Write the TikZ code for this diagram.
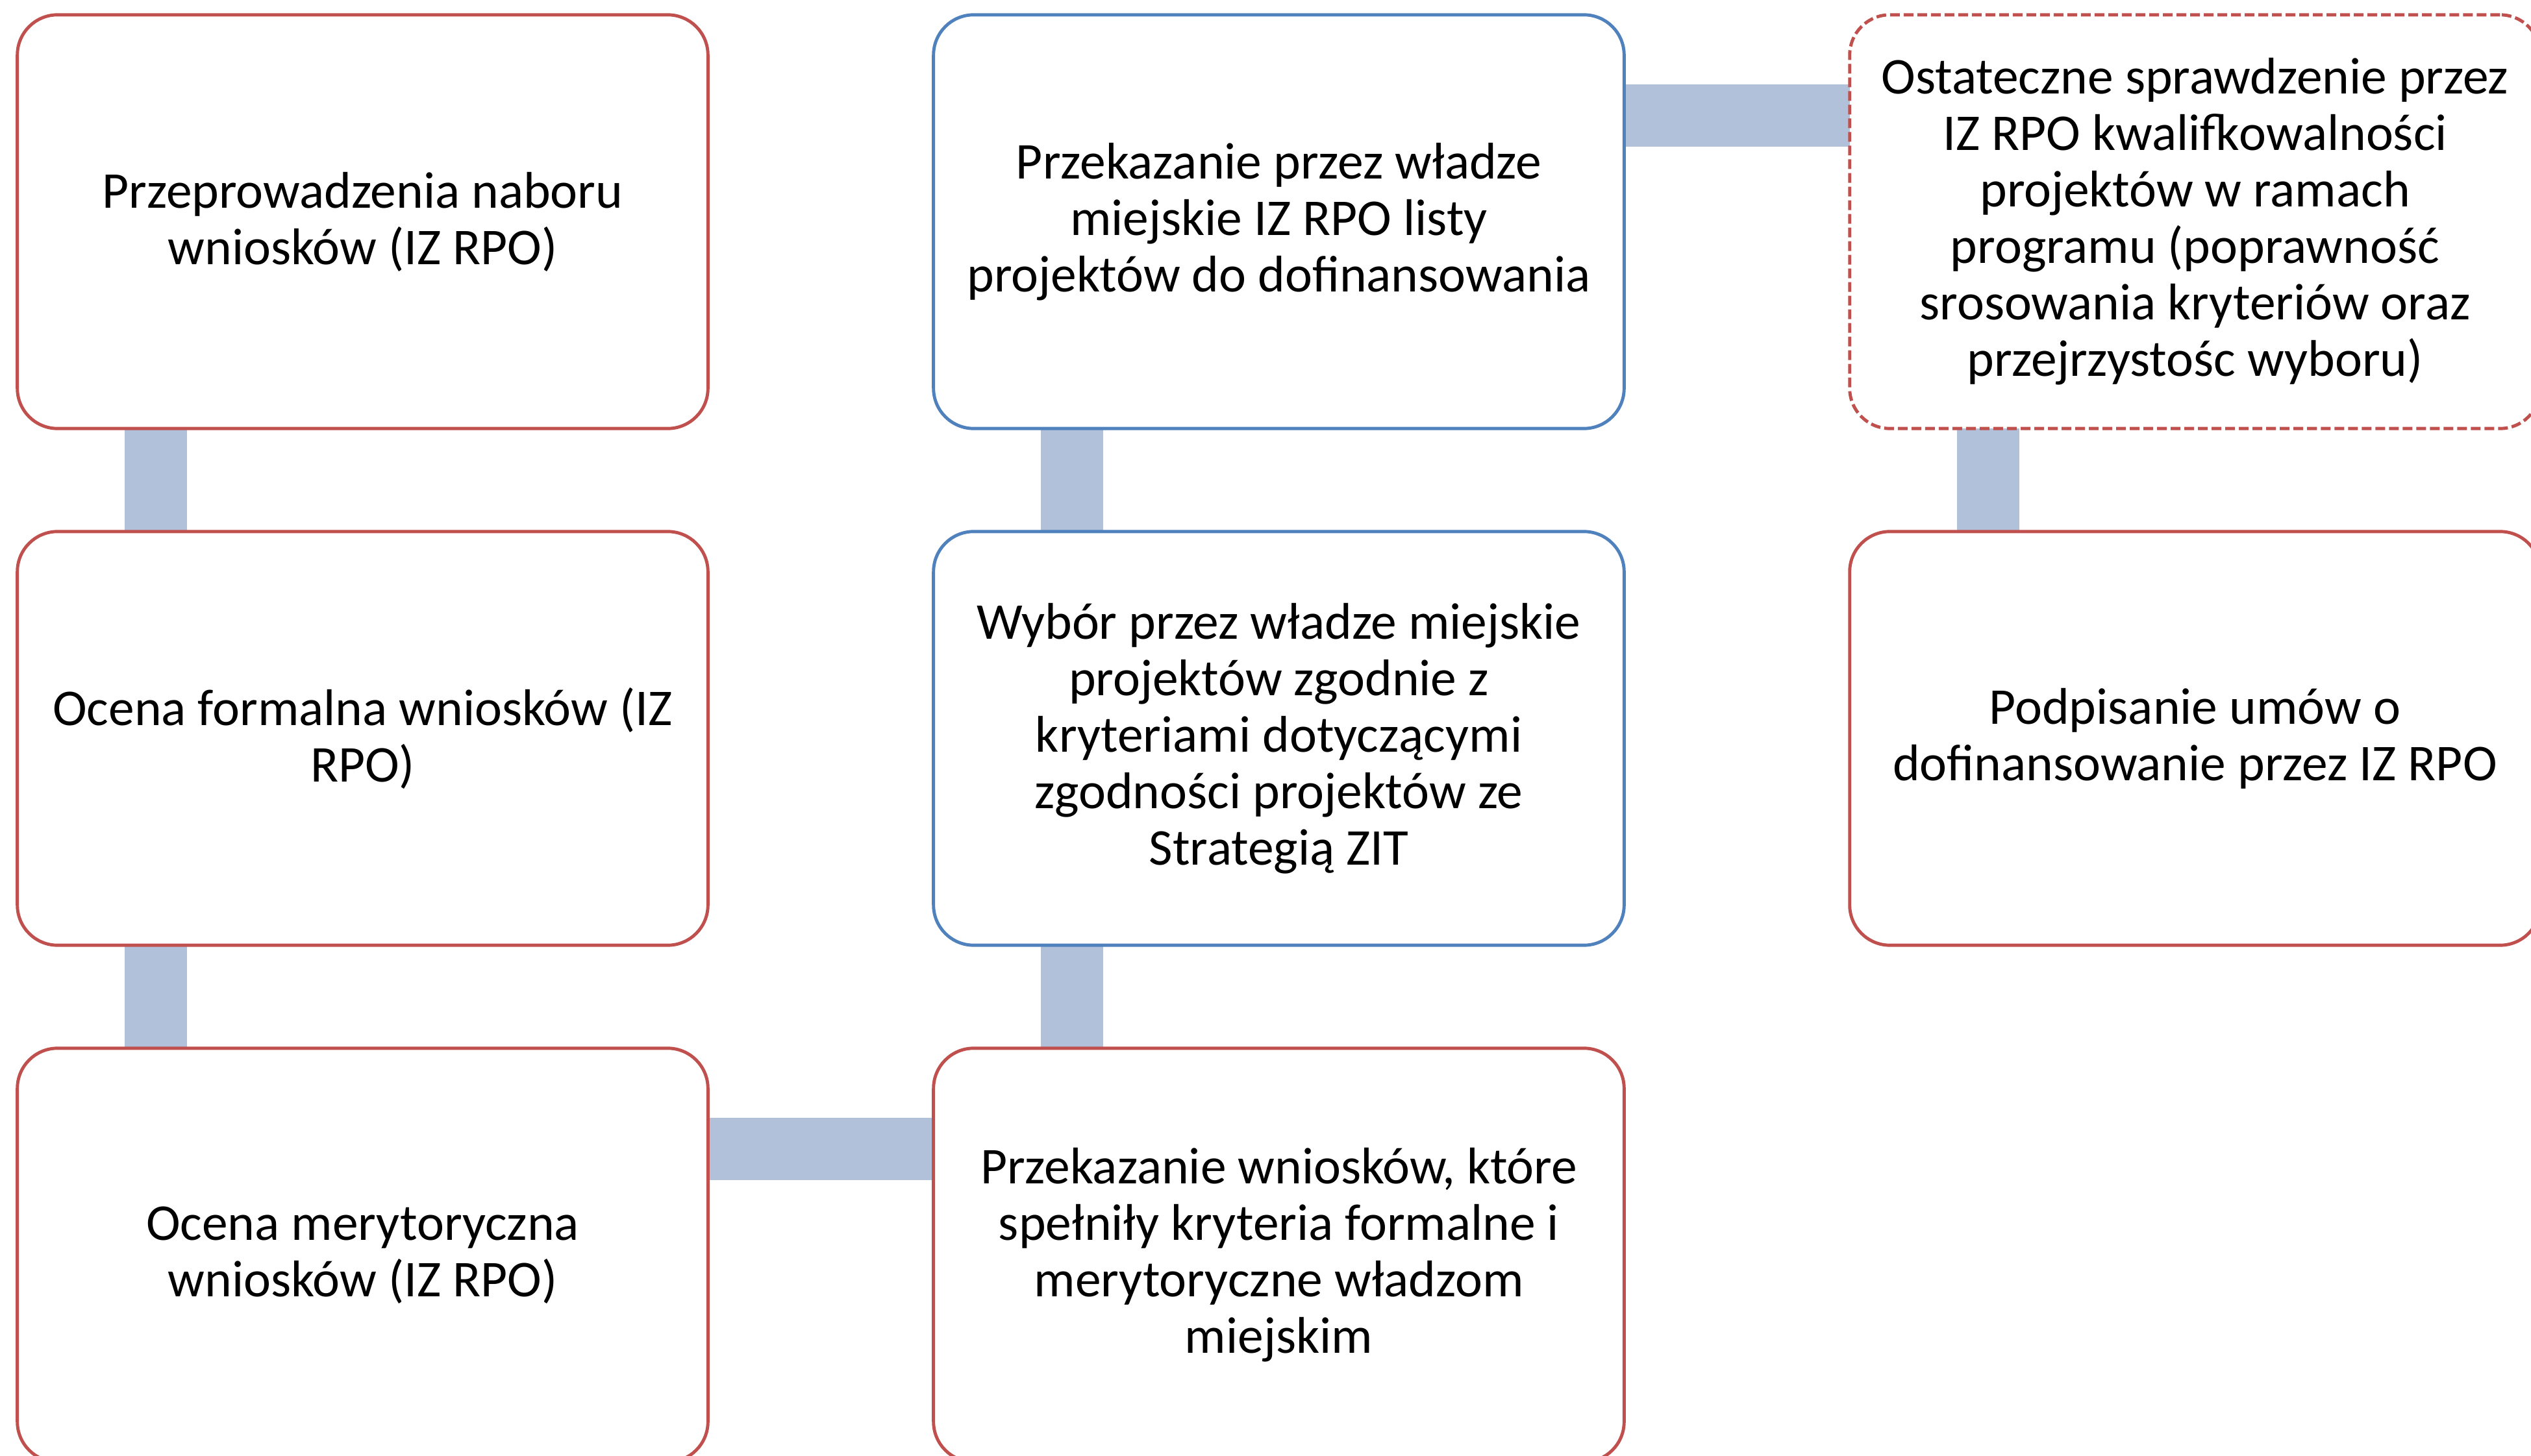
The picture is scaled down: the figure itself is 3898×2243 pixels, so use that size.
\documentclass[tikz,border=0pt]{standalone}
\usepackage{fontspec}
\setmainfont{Carlito}
\definecolor{boxred}{RGB}{192,80,77}
\definecolor{boxblue}{RGB}{79,129,189}
\definecolor{barfill}{RGB}{178,193,218}
\pgfdeclarelayer{bg}
\pgfsetlayers{bg,main}
\begin{document}
\begin{tikzpicture}[x=0.01cm,y=-0.01cm,
  card/.style={rectangle, rounded corners=0.62cm, minimum width=10.63cm, minimum height=6.37cm,
    inner sep=0pt, outer sep=0pt, line width=1.4pt, align=center,
    font=\fontsize{22.6pt}{24.75pt}\selectfont},
  redcard/.style={card, draw=boxred},
  bluecard/.style={card, draw=boxblue},
  dashcard/.style={card, draw=boxred, dash pattern=on 0.15cm off 0.06cm},
  bar/.style={draw=barfill, line width=0.96cm}]
\useasboundingbox (0,0) rectangle (3898,2243);
\clip (0,0) rectangle (3898,2243);
% nodes
\node[redcard] (a) at (558.5,341.5) {Przeprowadzenia naboru\\wniosków (IZ RPO)};
\node[redcard] (b) at (558.5,1137.5) {Ocena formalna wniosków (IZ\\RPO)};
\node[redcard] (c) at (558.5,1933.5) {Ocena merytoryczna\\wniosków (IZ RPO)};
\node[redcard] (d) at (1969.5,1933.5) {Przekazanie wniosków, które\\spełniły kryteria formalne i\\merytoryczne władzom\\miejskim};
\node[bluecard] (e) at (1969.5,1137.5) {Wybór przez władze miejskie\\projektów zgodnie z\\kryteriami dotyczącymi\\zgodności projektów ze\\Strategią ZIT};
\node[bluecard] (f) at (1969.5,341.5) {Przekazanie przez władze\\miejskie IZ RPO listy\\projektów do dofinansowania};
\node[dashcard] (g) at (3380.5,341.5) {Ostateczne sprawdzenie przez\\IZ RPO kwalifkowalności\\projektów w ramach\\programu (poprawność\\srosowania kryteriów oraz\\przejrzystośc wyboru)};
\node[redcard] (h) at (3380.5,1137.5) {Podpisanie umów o\\dofinansowanie przez IZ RPO};
% connectors
\begin{pgfonlayer}{bg}
\fill[white] (0,0) rectangle (3898,2243);
\draw[bar] ([xshift=-3.18cm]a.south) -- ([xshift=-3.18cm]b.north);
\draw[bar] ([xshift=-3.18cm]b.south) -- ([xshift=-3.18cm]c.north);
\draw[bar] ([yshift=1.63cm]c.east) -- ([yshift=1.63cm]d.west);
\draw[bar] ([xshift=-3.18cm]d.north) -- ([xshift=-3.18cm]e.south);
\draw[bar] ([xshift=-3.18cm]e.north) -- ([xshift=-3.18cm]f.south);
\draw[bar] ([yshift=1.63cm]f.east) -- ([yshift=1.63cm]g.west);
\draw[bar] ([xshift=-3.18cm]g.south) -- ([xshift=-3.18cm]h.north);
\end{pgfonlayer}
\end{tikzpicture}
\end{document}
